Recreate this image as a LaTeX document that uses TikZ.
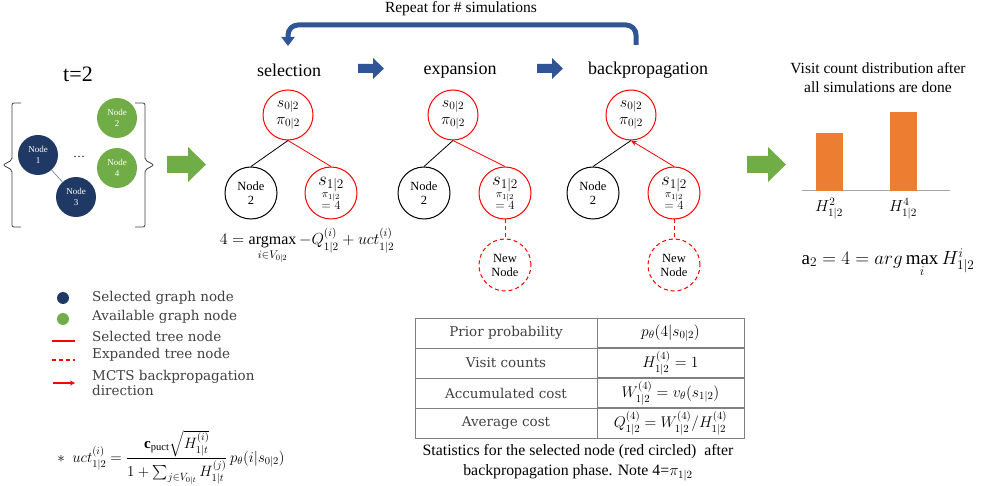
\RequirePackage{fix-cm}
\documentclass[tikz,border=0pt]{standalone}
\usepackage{amsmath}
\usepackage{fontspec}
\setmainfont{Liberation Serif}
\newfontfamily\legendfont{DejaVu Serif}
\usetikzlibrary{arrows.meta}

\definecolor{graphnavy}{HTML}{203864}
\definecolor{graphgreen}{HTML}{70AD47}
\definecolor{loopblue}{HTML}{2F5597}
\definecolor{barorange}{HTML}{ED7D31}
\definecolor{legendgray}{HTML}{404040}
\definecolor{tablegray}{HTML}{808080}

\newcommand{\setfs}[2]{\fontsize{#1}{#2}\selectfont}

\begin{document}
\begin{tikzpicture}[x=1pt,y=-1pt,
        graph node/.style={circle,minimum size=40pt,inner sep=0pt,align=center,
            text=white,font=\setfs{9}{11}},
        tree node/.style={circle,draw,line width=1pt,minimum size=52pt,inner sep=0pt,
            align=center,font=\setfs{12.5}{14}},
        red node/.style={tree node,draw=red},
        new node/.style={red node,dash pattern=on 4pt off 3pt},
        phase/.style={font=\setfs{18}{20}},
        legend text/.style={anchor=west,inner sep=0pt,align=left,text=legendgray,
            font=\legendfont\setfs{13.5}{15}},
        key cell/.style={draw=tablegray,line width=0.8pt,minimum width=182pt,minimum height=30pt,
            text=legendgray,font=\legendfont\setfs{13.5}{15}},
        value cell/.style={draw=tablegray,line width=0.8pt,minimum width=147pt,minimum height=30pt,
            font=\setfs{15.5}{17}},
        bar/.style={fill=barorange,minimum width=27pt,inner sep=0pt,anchor=south}]

    \useasboundingbox (0,0) rectangle (982,486);

    % loop over the three phases
    \node[font=\setfs{15.5}{17},anchor=base,inner sep=0pt] (repeat) at (461,13) {Repeat for \# simulations};
    \coordinate (loop start) at (636,45);
    \coordinate (loop end) at (288,46);
    \draw[loopblue,line width=5pt,rounded corners=10pt,-{Triangle[width=13pt,length=9pt]}]
        (loop start) -- (636,25) -- (288,25) -- (loop end);

    \node[phase] (sel-label) at (289,70) {selection};
    \node[phase] (exp-label) at (460,70) {expansion};
    \node[phase] (bp-label) at (648,70) {backpropagation};
    \foreach \bx in {358,537}
        \fill[loopblue] (\bx,64) -- ++(15,0) -- ++(0,-6) -- ++(11,10.5) -- ++(-11,10.5)
            -- ++(0,-6) -- ++(-15,0) -- cycle;
    \foreach \gx in {167,747}
        \fill[graphgreen] (\gx,156) -- ++(21,0) -- ++(0,-9) -- ++(18,17.5) -- ++(-18,17.5)
            -- ++(0,-9) -- ++(-21,0) -- cycle;

    % graph at t=2
    \node[font=\setfs{22}{24}] (time) at (78,74) {t=2};
    \draw[legendgray,line width=0.8pt,rounded corners=2pt]
        (21,103) -- (12,103) -- (12,160) -- (3,165) -- (12,170) -- (12,227) -- (21,227);
    \draw[legendgray,line width=0.8pt,rounded corners=2pt]
        (135,103) -- (145,103) -- (145,160) -- (154,165) -- (145,170) -- (145,227) -- (135,227);
    \node[graph node,fill=graphnavy] (g1) at (38,155) {Node\\1};
    \node[graph node,fill=graphnavy] (g3) at (76,197) {Node\\3};
    \node[graph node,fill=graphgreen] (g2) at (117,118) {Node\\2};
    \node[graph node,fill=graphgreen] (g4) at (117,168) {Node\\4};
    \node[font=\setfs{12}{14}] (gdots) at (79,157) {\dots};
    \draw[graphnavy!70,line width=0.6pt] (g1) -- (g3);

    % search trees
    \foreach \tree/\rx/\lx/\sx in {sel/288/251/331,exp/453/424/505,bp/631/593/674}{
        \node[red node,minimum size=50pt,font=\setfs{16}{17}] (\tree-root) at (\rx,115)
            {$s_{0|2}$\\$\pi_{0|2}$};
        \node[tree node] (\tree-n2) at (\lx,193) {Node\\2};
        \node[red node] (\tree-s1) at (\sx,193)
            {{\setfs{19}{18}$s_{1|2}$}\\[-2pt]{\setfs{11}{10}$\pi_{1|2}$}\\[-2pt]{\setfs{12.5}{12}$=4$}};
        \draw[line width=0.8pt] (\tree-root.south) -- (\tree-n2.north);
    }
    \draw[red,line width=0.8pt] (sel-root.south) -- (sel-s1.north);
    \draw[red,line width=0.8pt] (exp-root.south) -- (exp-s1.north);
    \draw[red,line width=0.8pt,-{Stealth[length=6pt,width=5pt]}] (bp-s1.north) -- (bp-root.south);
    \node[new node] (exp-new) at (505,265) {New\\Node};
    \node[new node] (bp-new) at (674,265) {New\\Node};
    \draw[red,line width=0.8pt,dash pattern=on 4pt off 3pt] (exp-s1) -- (exp-new);
    \draw[red,line width=0.8pt,dash pattern=on 4pt off 3pt] (bp-s1) -- (bp-new);

    \node[font=\setfs{16}{18}] (sel-formula) at (307,246)
        {$4 = \mathop{\text{argmax}}\limits_{i\in V_{0|2}} -Q^{(i)}_{1|2} + uct^{(i)}_{1|2}$};

    % visit counts
    \node[align=center,font=\setfs{15.5}{19}] (visit) at (878,78)
        {Visit count distribution after\\all simulations are done};
    \draw[gray!70,line width=1pt] (802,191) -- (950,191);
    \node[bar,minimum height=58pt] (bar2) at (829.5,191) {};
    \node[bar,minimum height=79pt] (bar4) at (903.5,191) {};
    \node[font=\setfs{16}{17}] (h2) at (829,209) {$H^2_{1|2}$};
    \node[font=\setfs{16}{17}] (h4) at (903,209) {$H^4_{1|2}$};
    \node[font=\setfs{19}{21}] (action) at (888,263)
        {$\mathrm{a}_2 = 4 = arg\max\limits_i H^i_{1|2}$};

    % legend
    \node[legend text] (leg-gsel) at (92,298) {Selected graph node};
    \node[legend text] (leg-gavail) at (92,317) {Available graph node};
    \node[legend text] (leg-tsel) at (92,336) {Selected tree node};
    \node[legend text] (leg-texp) at (92,355) {Expanded tree node};
    \node[legend text] (leg-back) at (92,383) {MCTS backpropagation\\direction};
    \node[circle,fill=graphnavy,minimum size=12pt,inner sep=0pt] (dot-sel) at (63,298) {};
    \node[circle,fill=graphgreen,minimum size=12pt,inner sep=0pt] (dot-avail) at (63,319) {};
    \draw[red,line width=1.2pt]
        ([xshift=-40pt,yshift=-5pt]leg-tsel.west) -- ([xshift=-17pt,yshift=-5pt]leg-tsel.west);
    \draw[red,line width=1.2pt,dash pattern=on 4pt off 3pt]
        ([xshift=-40pt,yshift=-5pt]leg-texp.west) -- ([xshift=-17pt,yshift=-5pt]leg-texp.west);
    \draw[red,line width=1.2pt,-{Stealth[length=5pt,width=5pt]}]
        ([xshift=-39pt]leg-back.west) -- ([xshift=-17pt]leg-back.west);

    \node[font=\setfs{15}{17}] (uct) at (171,457)
        {$\ast\ \ uct^{(i)}_{1|2} = \dfrac{\mathbf{c}_{\mathrm{puct}}\sqrt{H^{(i)}_{1|t}}}
            {1+\sum\nolimits_{j\in V_{0|t}} H^{(j)}_{1|t}}\, p_\theta(i|s_{0|2})$};

    % statistics table
    \node[key cell] (prior-key) at (506,333) {Prior probability};
    \node[value cell] (prior-val) at (670.5,333) {$p_\theta(4|s_{0|2})$};
    \node[key cell] (visit-key) at (506,363) {Visit counts};
    \node[value cell] (visit-val) at (670.5,363) {$H^{(4)}_{1|2} = 1$};
    \node[key cell] (acc-key) at (506,393) {Accumulated cost};
    \node[value cell] (acc-val) at (670.5,393) {$W^{(4)}_{1|2} = v_\theta(s_{1|2})$};
    \node[key cell] (avg-key) at (506,423) {Average cost};
    \node[value cell] (avg-val) at (670.5,423) {$Q^{(4)}_{1|2} = W^{(4)}_{1|2}/H^{(4)}_{1|2}$};
    \node[align=center,font=\setfs{15.8}{20}] (caption) at (578,463)
        {Statistics for the selected node (red circled)\ \ after\\backpropagation phase. Note 4=$\pi_{1|2}$};
\end{tikzpicture}
\end{document}
